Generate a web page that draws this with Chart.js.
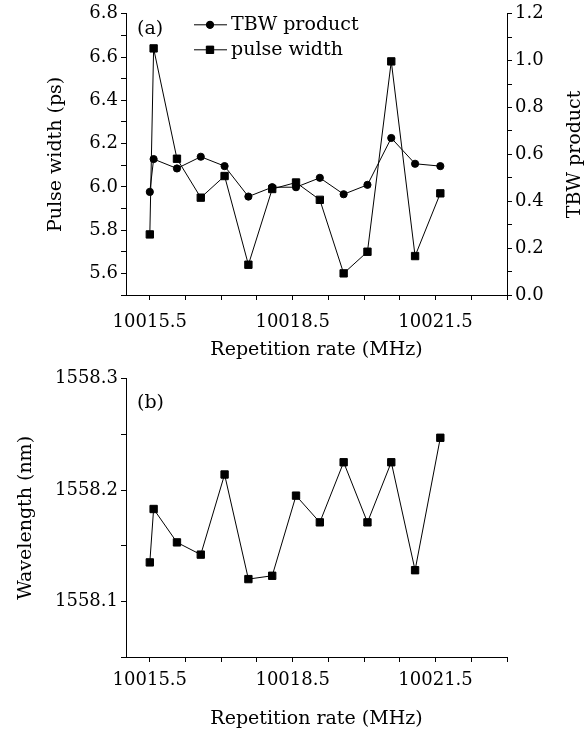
<!DOCTYPE html>
<html>
<head>
<meta charset="utf-8">
<script src="https://cdn.jsdelivr.net/npm/chart.js@4.4.1/dist/chart.umd.min.js"></script>
<style>
  html, body { margin: 0; padding: 0; background: #fff; }
  #wrap { position: relative; width: 587px; height: 731px; }
  canvas { position: absolute; left: 0; display: block; }
</style>
</head>
<body>
<div id="wrap">
  <canvas id="topChart" width="587" height="365" style="top:0"></canvas>
  <canvas id="bottomChart" width="587" height="366" style="top:365px"></canvas>
</div>
<script>
// repetition rate (MHz), shared by both panels
const repRate = [10015.5, 10015.58, 10016.07, 10016.57, 10017.07, 10017.57, 10018.07,
                 10018.57, 10019.07, 10019.57, 10020.07, 10020.57, 10021.07, 10021.6];
const pulseWidth = [5.78, 6.64, 6.13, 5.95, 6.05, 5.64, 5.99, 6.02, 5.94, 5.60, 5.70, 6.58, 5.68, 5.97];
const tbwProduct = [0.44, 0.58, 0.54, 0.59, 0.55, 0.42, 0.46, 0.46, 0.50, 0.43, 0.47, 0.67, 0.56, 0.55];
const wavelength = [1558.135, 1558.183, 1558.153, 1558.142, 1558.214, 1558.120, 1558.123,
                    1558.195, 1558.171, 1558.225, 1558.171, 1558.225, 1558.128, 1558.247];

// tick positions and labels
const xTicks = [10015.5, 10016.25, 10017, 10017.75, 10018.5, 10019.25, 10020, 10020.75, 10021.5, 10022.25, 10023];
const xTickLabels = ['10015.5', '10018.5', '10021.5'];
const pwTicks = [5.5, 5.6, 5.7, 5.8, 5.9, 6.0, 6.1, 6.2, 6.3, 6.4, 6.5, 6.6, 6.7, 6.8];
const pwTickLabels = ['5.6', '5.8', '6.0', '6.2', '6.4', '6.6', '6.8'];
const tbwTicks = [0, 0.1, 0.2, 0.3, 0.4, 0.5, 0.6, 0.7, 0.8, 0.9, 1.0, 1.1, 1.2];
const tbwTickLabels = ['0.0', '0.2', '0.4', '0.6', '0.8', '1.0', '1.2'];
const wlTicks = [1558.05, 1558.1, 1558.15, 1558.2, 1558.25, 1558.3];
const wlTickLabels = ['1558.1', '1558.2', '1558.3'];

Chart.defaults.font.family = "'DejaVu Serif', serif";
Chart.defaults.color = '#000';

const pts = (ys) => ys.map((y, i) => ({ x: repRate[i], y: y }));

// only show a label where the tick value matches one in the list
function labelFrom(list) {
    return (value) => list.find((s) => Math.abs(Number(s) - value) < 1e-6) || '';
}

function tickAxis(values, labels, extra) {
    return Object.assign({
        afterBuildTicks: (scale) => { scale.ticks = values.map((v) => ({ value: v })); },
        ticks: {
            autoSkip: false,
            maxRotation: 0,
            font: { size: 18 },
            callback: labelFrom(labels),
        },
        grid: { drawOnChartArea: false, tickLength: 5, color: '#000', tickWidth: 1 },
        border: { display: true, color: '#000', width: 1 },
    }, extra);
}

function xAxis(height, titlePad, tickPad) {
    const ax = tickAxis(xTicks, xTickLabels, {
        type: 'linear',
        min: 10015,
        max: 10023,
        title: { display: true, text: 'Repetition rate (MHz)', font: { size: 19 }, padding: { bottom: titlePad, top: 0 } },
        afterFit: (scale) => { scale.height = height; },
    });
    ax.ticks.padding = tickPad;
    return ax;
}

// legend, panel tag and right-hand title, drawn onto the canvas
const panelText = {
    id: 'panelText',
    afterDraw(chart, args, opts) {
        const ctx = chart.ctx;
        const area = chart.chartArea;
        ctx.save();
        ctx.fillStyle = '#000';
        ctx.strokeStyle = '#000';
        ctx.textBaseline = 'middle';
        ctx.font = "19px 'DejaVu Serif', serif";
        ctx.fillText(opts.tag, area.left + 11, area.top + opts.tagDy);
        (opts.legend || []).forEach((item, i) => {
            const y = area.top + 11 + i * 25;
            ctx.lineWidth = 1;
            ctx.beginPath();
            ctx.moveTo(194, y);
            ctx.lineTo(227, y);
            ctx.stroke();
            Chart.helpers.drawPoint(ctx, { pointStyle: item.style, radius: item.r, borderWidth: 1 }, 210, y);
            ctx.fill();
            ctx.fillText(item.text, 231, y);
        });
        if (opts.rightTitle) {
            ctx.translate(575, (area.top + area.bottom) / 2);
            ctx.rotate(-Math.PI / 2);
            ctx.textAlign = 'center';
            ctx.fillText(opts.rightTitle, 0, 0);
        }
        ctx.restore();
    },
};

new Chart(document.getElementById('topChart'), {
    type: 'line',
    data: {
        datasets: [
            {
                label: 'TBW product',
                data: pts(tbwProduct),
                yAxisID: 'y1',
                borderColor: '#000',
                backgroundColor: '#000',
                borderWidth: 1,
                pointStyle: 'circle',
                pointRadius: 3.6,
                tension: 0,
            },
            {
                label: 'pulse width',
                data: pts(pulseWidth),
                yAxisID: 'y',
                borderColor: '#000',
                backgroundColor: '#000',
                borderWidth: 1,
                pointStyle: 'rect',
                pointRadius: 5.2,
                tension: 0,
            },
        ],
    },
    options: {
        responsive: false,
        animation: false,
        layout: { padding: { top: 13, left: 0, right: 0, bottom: 0 } },
        plugins: {
            legend: { display: false },
            tooltip: { enabled: false },
            panelText: {
                tag: '(a)',
                tagDy: 15,
                rightTitle: 'TBW product',
                legend: [
                    { text: 'TBW product', style: 'circle', r: 3.6 },
                    { text: 'pulse width', style: 'rect', r: 5.2 },
                ],
            },
        },
        scales: {
            x: xAxis(70, 4, 12),
            y: tickAxis(pwTicks, pwTickLabels, {
                position: 'left',
                min: 5.5,
                max: 6.8,
                title: { display: true, text: 'Pulse width (ps)', font: { size: 19 }, padding: { top: 45, bottom: 0 } },
                afterFit: (scale) => { scale.width = 126; },
            }),
            y1: tickAxis(tbwTicks, tbwTickLabels, {
                position: 'right',
                min: 0,
                max: 1.2,
                afterFit: (scale) => { scale.width = 80; },
            }),
        },
    },
    plugins: [panelText],
});

new Chart(document.getElementById('bottomChart'), {
    type: 'line',
    data: {
        datasets: [
            {
                label: 'wavelength',
                data: pts(wavelength),
                borderColor: '#000',
                backgroundColor: '#000',
                borderWidth: 1,
                pointStyle: 'rect',
                pointRadius: 5.2,
                tension: 0,
            },
        ],
    },
    options: {
        responsive: false,
        animation: false,
        layout: { padding: { top: 10, left: 0, right: 80, bottom: 0 } },
        plugins: {
            legend: { display: false },
            tooltip: { enabled: false },
            panelText: { tag: '(b)', tagDy: 24 },
        },
        scales: {
            x: xAxis(74, 1, 8),
            y: tickAxis(wlTicks, wlTickLabels, {
                position: 'left',
                min: 1558.05,
                max: 1558.3,
                title: { display: true, text: 'Wavelength (nm)', font: { size: 19 }, padding: { top: 15, bottom: 0 } },
                afterFit: (scale) => { scale.width = 126; },
            }),
        },
    },
    plugins: [panelText],
});
</script>
</body>
</html>
